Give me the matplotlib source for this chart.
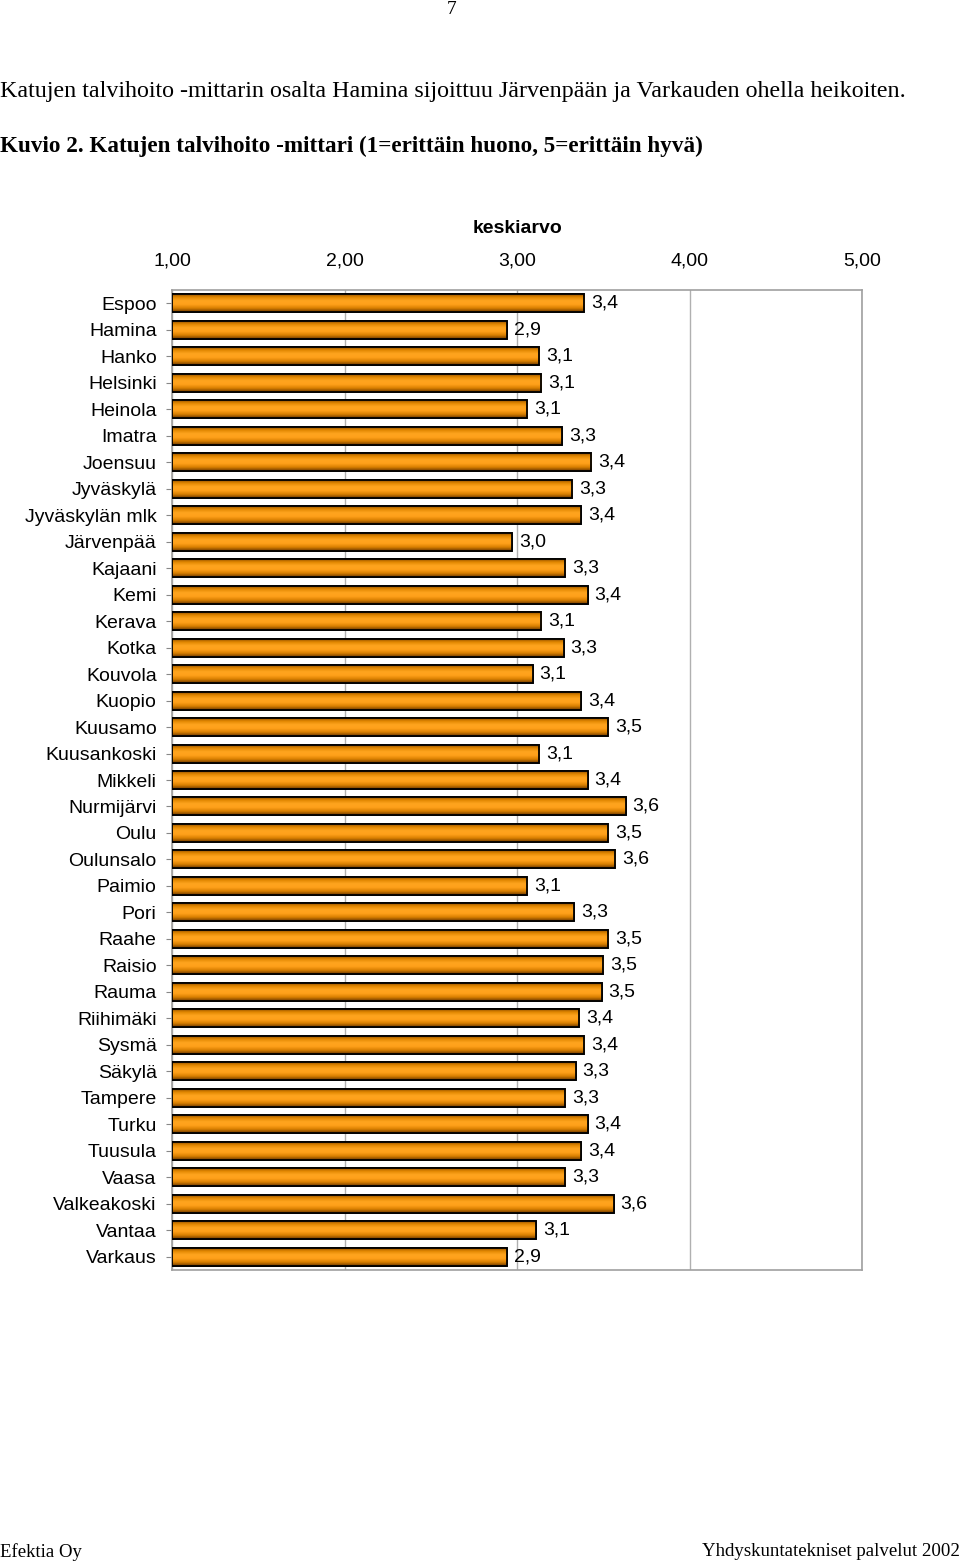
import matplotlib.pyplot as plt
import numpy as np
from matplotlib.colors import LinearSegmentedColormap

cities = ["Espoo", "Hamina", "Hanko", "Helsinki", "Heinola", "Imatra", "Joensuu",
          "Jyväskylä", "Jyväskylän mlk", "Järvenpää", "Kajaani", "Kemi", "Kerava",
          "Kotka", "Kouvola", "Kuopio", "Kuusamo", "Kuusankoski", "Mikkeli",
          "Nurmijärvi", "Oulu", "Oulunsalo", "Paimio", "Pori", "Raahe", "Raisio",
          "Rauma", "Riihimäki", "Sysmä", "Säkylä", "Tampere", "Turku", "Tuusula",
          "Vaasa", "Valkeakoski", "Vantaa", "Varkaus"]
means = [3.39, 2.94, 3.13, 3.14, 3.06, 3.26, 3.43, 3.32, 3.37, 2.97, 3.28, 3.41,
         3.14, 3.27, 3.09, 3.37, 3.53, 3.13, 3.41, 3.63, 3.53, 3.57, 3.06, 3.33,
         3.53, 3.50, 3.49, 3.36, 3.39, 3.34, 3.28, 3.41, 3.37, 3.28, 3.56, 3.11, 2.94]
xticks = [1, 2, 3, 4, 5]

sans = "Liberation Sans"
serif = "Liberation Serif"

fig = plt.figure(figsize=(9.6, 15.64), dpi=100)
ax = fig.add_axes([172 / 960, 1 - 1270 / 1564, 690 / 960, 980 / 1564])

y = np.arange(len(cities))
bars = ax.barh(y, np.array(means) - 1, left=1, height=0.68, color="#F7941D",
               edgecolor="black", linewidth=1.2, zorder=3)

# shaded look of the bars
cmap = LinearSegmentedColormap.from_list(
    "bar", ["#6e3a00", "#d98000", "#ffa01a", "#ffa51f", "#e08600", "#7a4000"])
grad = np.linspace(0, 1, 64).reshape(-1, 1)
for b in bars:
    x0, y0 = b.get_x(), b.get_y()
    w, h = b.get_width(), b.get_height()
    im = ax.imshow(grad, extent=[x0, x0 + w, y0, y0 + h], aspect="auto",
                   cmap=cmap, zorder=3.5, interpolation="bilinear")
    im.set_clip_path(b)
    ax.add_patch(plt.Rectangle((x0, y0), w, h, fill=False, edgecolor="black",
                               linewidth=1.3, zorder=4))

for yi, v in zip(y, means):
    ax.text(v + 0.04, yi, f"{v:.1f}".replace(".", ","), va="center", ha="left",
            fontsize=14, family=sans, zorder=5)

ax.set_xlim(1, 5)
ax.set_ylim(len(cities) - 0.5, -0.5)
ax.set_yticks(y)
ax.set_yticklabels(cities, fontsize=14, family=sans)
ax.set_xticks(xticks)
ax.set_xticklabels([f"{t:.2f}".replace(".", ",") for t in xticks], fontsize=14, family=sans)
ax.xaxis.tick_top()
ax.tick_params(axis="x", length=0, pad=15)
ax.tick_params(axis="y", length=4, color="#888888", pad=7)
ax.grid(axis="x", color="#b0b0b0", linewidth=1, zorder=0)
for s in ax.spines.values():
    s.set_color("#a0a0a0")
    s.set_linewidth(1.2)
ax.set_xlabel("keskiarvo", fontsize=14, family=sans, fontweight="bold", labelpad=14)
ax.xaxis.set_label_position("top")

fig.text(452 / 960, 1 - 10 / 1564, "7", ha="center", va="center", fontsize=14, family=serif)
fig.text(0.0, 1 - 92 / 1564, "Katujen talvihoito -mittarin osalta Hamina sijoittuu Järvenpään ja Varkauden ohella heikoiten.",
         ha="left", va="center", fontsize=17.3, family=serif)
fig.text(0.0, 1 - 146 / 1564, "Kuvio 2. Katujen talvihoito -mittari (1=erittäin huono, 5=erittäin hyvä)",
         ha="left", va="center", fontsize=16.7, family=serif, fontweight="bold")
fig.text(0.0, 1 - 1552 / 1564, "Efektia Oy", ha="left", va="center", fontsize=13.5, family=serif)
fig.text(1.0, 1 - 1552 / 1564, "Yhdyskuntatekniset palvelut 2002", ha="right", va="center",
         fontsize=13.6, family=serif)

fig.savefig("out.png", dpi=100)
